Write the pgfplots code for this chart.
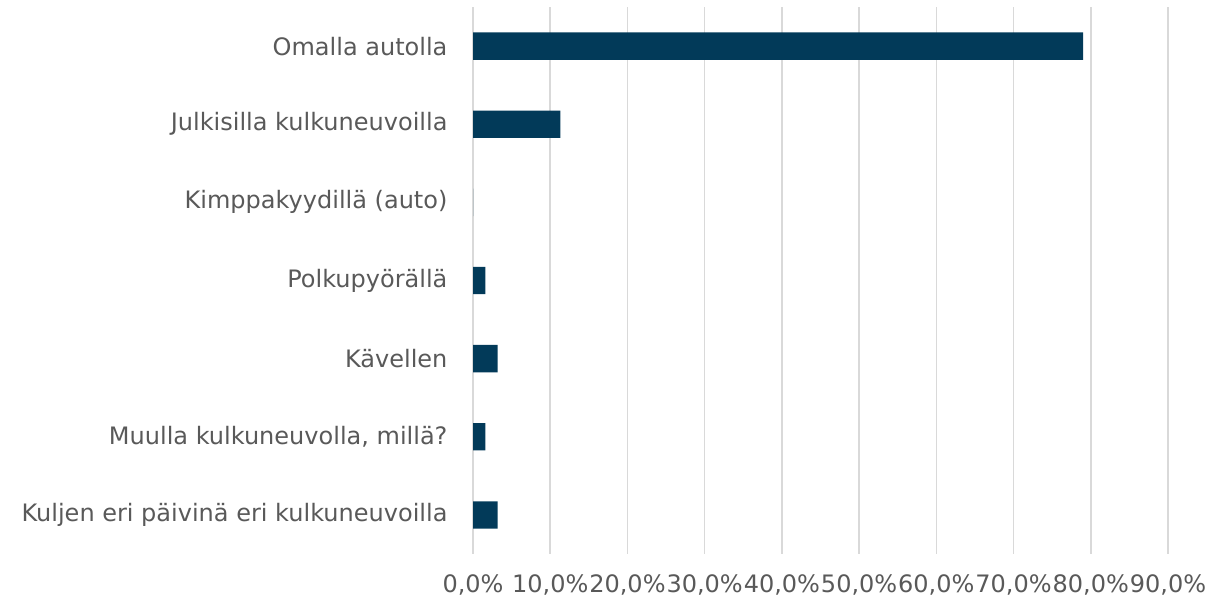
\documentclass[border=0pt]{standalone}
\usepackage{pgfplots}
\pgfplotsset{compat=1.18}
\usepackage{fontspec}
\setmainfont{DejaVu Sans}
\definecolor{barblue}{HTML}{023A59}
\definecolor{txtgrey}{HTML}{595959}
\definecolor{gridgrey}{HTML}{D9D9D9}
\begin{document}
\begin{tikzpicture}
\begin{axis}[
    at={(236.5pt,24.5pt)}, anchor=south west,
    scale only axis,
    width=347.5pt, height=273.5pt,
    xbar,
    bar width=0.35,
    xmin=0, xmax=90,
    ymin=-0.5, ymax=6.5,
    y dir=reverse,
    xtick={0,10,...,90},
    xticklabels={{0,0\%},{10,0\%},{20,0\%},{30,0\%},{40,0\%},{50,0\%},{60,0\%},{70,0\%},{80,0\%},{90,0\%}},
    ytick=data,
    yticklabels={Omalla autolla,Julkisilla kulkuneuvoilla,Kimppakyydillä (auto),Polkupyörällä,Kävellen,{Muulla kulkuneuvolla, millä?},Kuljen eri päivinä eri kulkuneuvoilla},
    axis line style={draw=none},
    tick style={draw=none},
    xmajorgrids,
    grid style={gridgrey, line width=0.8pt},
    ticklabel style={font=\fontsize{12}{14}\selectfont, text=txtgrey},
    xticklabel style={anchor=base, yshift=-19pt},
    yticklabel style={xshift=-5pt},
    enlarge y limits=false,
]
\addplot[fill=barblue, draw=none] coordinates {
    (79.0,0) (11.3,1) (0,2) (1.6,3) (3.2,4) (1.6,5) (3.2,6)
};
\end{axis}
\pgfresetboundingbox
\path[use as bounding box] (0,0) rectangle (615pt,301.5pt);
\end{tikzpicture}
\end{document}
